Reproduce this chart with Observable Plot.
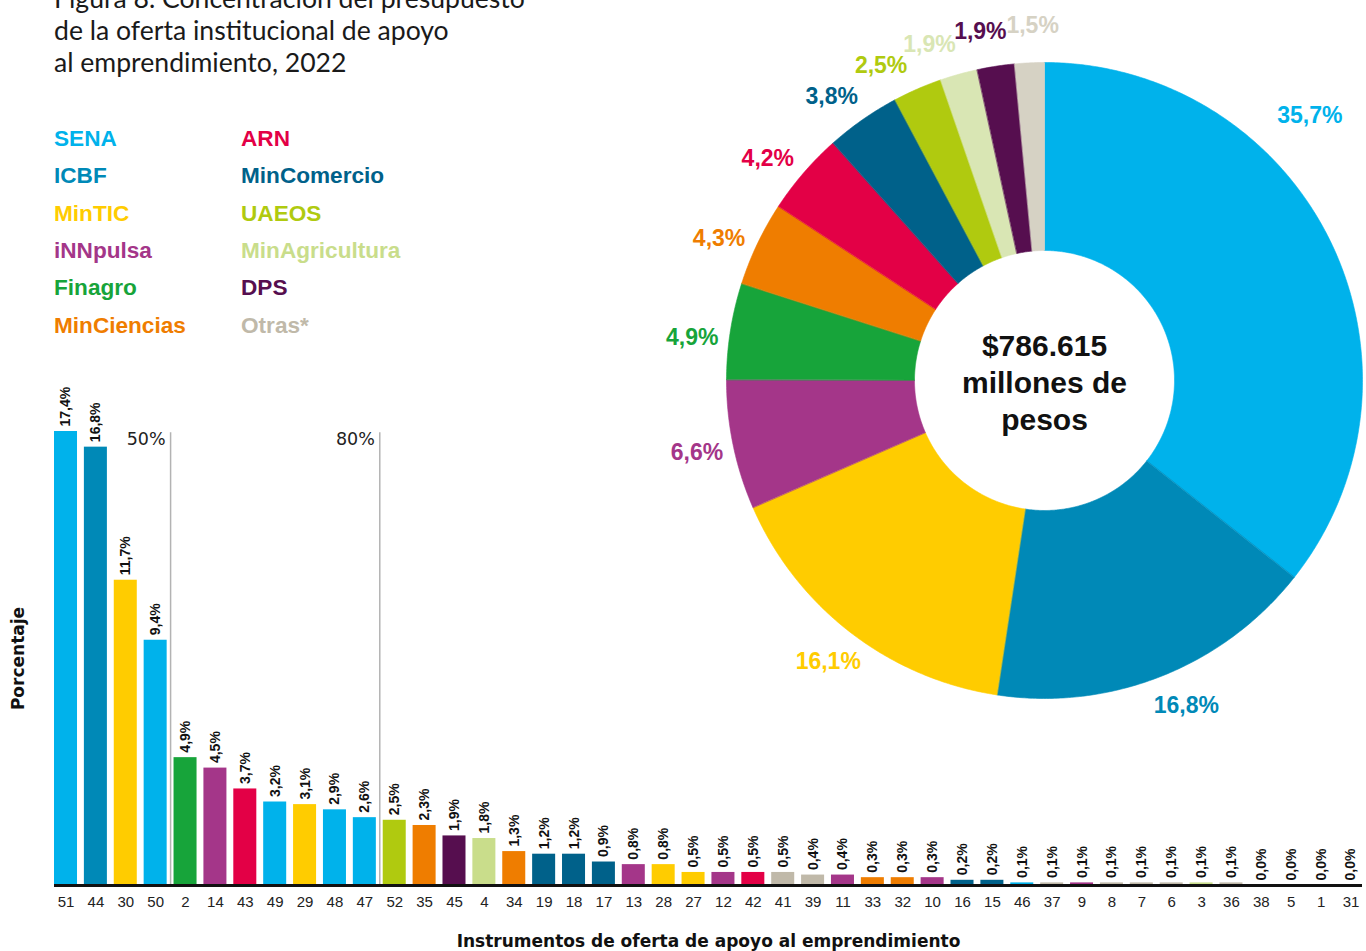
<!DOCTYPE html>
<html lang="es">
<head>
<meta charset="utf-8">
<script src="https://cdn.jsdelivr.net/npm/d3@7"></script>
<script src="https://cdn.jsdelivr.net/npm/@observablehq/plot@0.6"></script>
<style>
  html, body { margin: 0; padding: 0; background: #fff; }
  body { width: 1366px; height: 951px; overflow: hidden; position: relative; }
  #title { position: absolute; left: 54px; top: -18px; font-family: Lato, "Open Sans", sans-serif; font-size: 26.6px; line-height: 32px; color: #1a1a1a; white-space: nowrap; }
  #legend { position: absolute; left: 54px; top: 120px; font-family: "Liberation Sans", Arial, sans-serif; font-weight: bold; font-size: 22.6px; }
  .item { position: absolute; white-space: nowrap; line-height: 37.3px; }
  #pie { position: absolute; left: 650px; top: 0; }
  #bars { position: absolute; left: 0; top: 370px; }
  svg { max-width: none !important; }
</style>
</head>
<body>
<div id="title"></div>
<div id="legend"></div>
<div id="pie"></div>
<div id="bars"></div>
<script>
// ---------- DATA ----------
const titulo = [
  "Figura 8. Concentración del presupuesto",
  "de la oferta institucional de apoyo",
  "al emprendimiento, 2022"
];
const entidades = ["SENA", "ICBF", "MinTIC", "iNNpulsa", "Finagro", "MinCiencias",
                   "ARN", "MinComercio", "UAEOS", "MinAgricultura", "DPS", "Otras*"];
const porcentajePie = [35.7, 16.8, 16.1, 6.6, 4.9, 4.3, 4.2, 3.8, 2.5, 1.9, 1.9, 1.5];
const totalMillones = 786615;
const lineasCentro = ["millones de", "pesos"];

const instrumentos = ["51","44","30","50","2","14","43","49","29","48","47","52","35","45","4","34",
  "19","18","17","13","28","27","12","42","41","39","11","33","32","10","16","15","46","37","9",
  "8","7","6","3","36","38","5","1","31"];
const valores = [17.4,16.8,11.7,9.4,4.9,4.5,3.7,3.2,3.1,2.9,2.6,2.5,2.3,1.9,1.8,1.3,
  1.2,1.2,0.9,0.8,0.8,0.5,0.5,0.5,0.5,0.4,0.4,0.3,0.3,0.3,0.2,0.2,0.1,0.1,0.1,
  0.1,0.1,0.1,0.1,0.1,0.0,0.0,0.0,0.0];
const entidadInstrumento = ["SENA","ICBF","MinTIC","SENA","Finagro","iNNpulsa","ARN","SENA","MinTIC",
  "SENA","SENA","UAEOS","MinCiencias","DPS","MinAgricultura","MinCiencias","MinComercio","MinComercio",
  "MinComercio","iNNpulsa","MinTIC","MinTIC","iNNpulsa","ARN","Otras*","Otras*","iNNpulsa","MinCiencias",
  "MinCiencias","iNNpulsa","MinComercio","MinComercio","SENA","Otras*","iNNpulsa","Otras*","Otras*",
  "Otras*","MinAgricultura","Otras*","Otras*","Otras*","Otras*","Otras*"];
const umbrales = [50, 80];
const etiquetaX = "Instrumentos de oferta de apoyo al emprendimiento";
const etiquetaY = "Porcentaje";

// ---------- STYLES ----------
const colores = ["#00b2eb","#0089b7","#ffcc00","#a43689","#17a43a","#ef7d00",
                 "#e30046","#00618a","#b0ca0f","#c9dd8b","#560e4f","#c0b9a9"];
const coloresPie = ["#00b2eb","#0089b7","#ffcc00","#a43689","#17a43a","#ef7d00",
                    "#e30046","#00618a","#b0ca0f","#d9e6b4","#560e4f","#d6d2c4"];
const SANS = '"Liberation Sans", Arial, sans-serif';
const WIDE = '"DejaVu Sans", sans-serif';

const es = d3.formatLocale({decimal: ",", thousands: ".", grouping: [3], currency: ["$", ""]});
const fmtPct = v => es.format(".1f")(v) + "%";
const fmtMoney = es.format("$,");

// ---------- TITLE & LEGEND ----------
document.getElementById("title").innerHTML = titulo.join("<br>");
const legend = document.getElementById("legend");
entidades.forEach((e, i) => {
  const col = Math.floor(i / 6), row = i % 6;
  const div = document.createElement("div");
  div.className = "item";
  div.textContent = e;
  div.style.left = (col * 187) + "px";
  div.style.top = (row * 37.3) + "px";
  div.style.color = colores[i];
  legend.appendChild(div);
});

// ---------- PIE (donut) ----------
const deg = Math.PI / 180;
const inner = 130 / 318;
const total = d3.sum(porcentajePie);
let acc = 0;
const slices = entidades.map((e, i) => {
  const a0 = acc / total * 2 * Math.PI;
  acc += porcentajePie[i];
  const a1 = acc / total * 2 * Math.PI;
  return {e, v: porcentajePie[i], a0, a1, mid: (a0 + a1) / 2};
});
const pts = [];
for (const s of slices) {
  const n = Math.max(2, Math.ceil((s.a1 - s.a0) / (Math.PI / 360)));
  for (let k = 0; k <= n; k++) {
    const a = s.a0 + (s.a1 - s.a0) * k / n;
    pts.push({e: s.e, x: Math.sin(a), y: Math.cos(a)});
  }
  for (let k = n; k >= 0; k--) {
    const a = s.a0 + (s.a1 - s.a0) * k / n;
    pts.push({e: s.e, x: inner * Math.sin(a), y: inner * Math.cos(a)});
  }
}
// label angles: mid-angle, nudged, then spread so neighbours keep a minimum gap
const labels = slices.map((s, i) => {
  let a = s.mid;
  if (i === 0) a = Math.min(s.mid, Math.PI / 4);
  else if (s.mid > 1.5 * Math.PI || s.mid < Math.PI) a = s.mid - 2 * deg;
  return {...s, a, r: i === 0 ? 1.18 : 1.116};
});
function spread(items, gap) {
  const blocks = [];
  for (const d of items) {
    blocks.push({items: [d], sum: d.a});
    while (blocks.length > 1) {
      const b = blocks[blocks.length - 1], p = blocks[blocks.length - 2];
      const pPos = p.sum / p.items.length, bPos = b.sum / b.items.length;
      if (pPos + p.items.length * gap <= bPos) break;
      p.sum += b.sum - gap * p.items.length * b.items.length;
      p.items.push(...b.items);
      blocks.pop();
    }
  }
  for (const b of blocks) {
    const p0 = b.sum / b.items.length;
    b.items.forEach((d, k) => (d.a = p0 + gap * k));
  }
}
spread(labels.filter((d, i) => i > 0 && d.a > 1.5 * Math.PI), 8.5 * deg);
labels.forEach(d => { d.lx = d.r * Math.sin(d.a); d.ly = d.r * Math.cos(d.a); });

const pie = Plot.plot({
  width: 716, height: 720, margin: 0,
  x: {domain: [-394 / 318, 322 / 318], axis: null},
  y: {domain: [-340 / 318, 380 / 318], axis: null},
  color: {domain: entidades, range: coloresPie},
  style: {background: "transparent", overflow: "visible", fontFamily: SANS},
  marks: [
    Plot.line(pts, {x: "x", y: "y", z: "e", fill: "e", stroke: "e", strokeWidth: 0.6, curve: "linear-closed"}),
    Plot.text(labels, {x: "lx", y: "ly", text: d => fmtPct(d.v), fill: "e", fontSize: 23, fontWeight: "bold"}),
    Plot.text([totalMillones], {x: () => 0, y: () => 0, text: d => [fmtMoney(d), ...lineasCentro].join("\n"),
      fontSize: 30, fontWeight: "bold", lineHeight: 1.23, fill: "#111", dy: 1})
  ]
});
document.getElementById("pie").appendChild(pie);

// ---------- BARS ----------
const rows = instrumentos.map((inst, i) => ({inst, val: valores[i], ent: entidadInstrumento[i]}));
const W = 1366, H = 581, ML = 54, MR = 4, MT = 61, MB = 66, PAD = 0.23;
const step = (W - ML - MR) / (instrumentos.length - PAD);
let cum = 0;
const cumul = valores.map(v => (cum += v));
const cortes = umbrales.map(u => ({u, inst: instrumentos[cumul.findIndex(c => c >= u - 1e-9)]}));
const yMax = d3.max(valores);

const bars = Plot.plot({
  width: W, height: H,
  marginLeft: ML, marginRight: MR, marginTop: MT, marginBottom: MB,
  style: {background: "transparent", overflow: "visible", fontFamily: SANS, fontSize: "15px", color: "#222"},
  x: {domain: instrumentos, paddingInner: PAD, paddingOuter: 0, round: false, tickSize: 0, tickPadding: 11, label: null},
  y: {domain: [0, yMax], axis: null},
  color: {domain: entidades, range: colores},
  marks: [
    Plot.barY(rows, {x: "inst", y: "val", fill: "ent"}),
    Plot.ruleX(cortes, {x: "inst", y1: 0, y2: yMax - 0.05, dx: step / 2, stroke: "#b3b3b3", strokeWidth: 1.5}),
    Plot.text(cortes, {x: "inst", y: () => yMax, text: d => d.u + "%", textAnchor: "end", lineAnchor: "top",
      dx: step / 2 - 5, dy: 1, fontSize: 17.5, fontFamily: WIDE, fill: "#222"}),
    Plot.ruleY([0], {stroke: "#111", strokeWidth: 3}),
    Plot.text(rows, {x: "inst", y: "val", text: d => fmtPct(d.val), rotate: -90, textAnchor: "start",
      dy: -5, fontSize: 14, fontWeight: "bold", fill: "#111"}),
    Plot.text([etiquetaX], {frameAnchor: "bottom", dy: 61, fontSize: 17, fontWeight: "bold", fontFamily: WIDE, fill: "#111"}),
    Plot.text([etiquetaY], {frameAnchor: "left", textAnchor: "middle", rotate: -90, dx: -36, fontSize: 17,
      fontWeight: "bold", fontFamily: WIDE, fill: "#111"})
  ]
});
document.getElementById("bars").appendChild(bars);
</script>
</body>
</html>
